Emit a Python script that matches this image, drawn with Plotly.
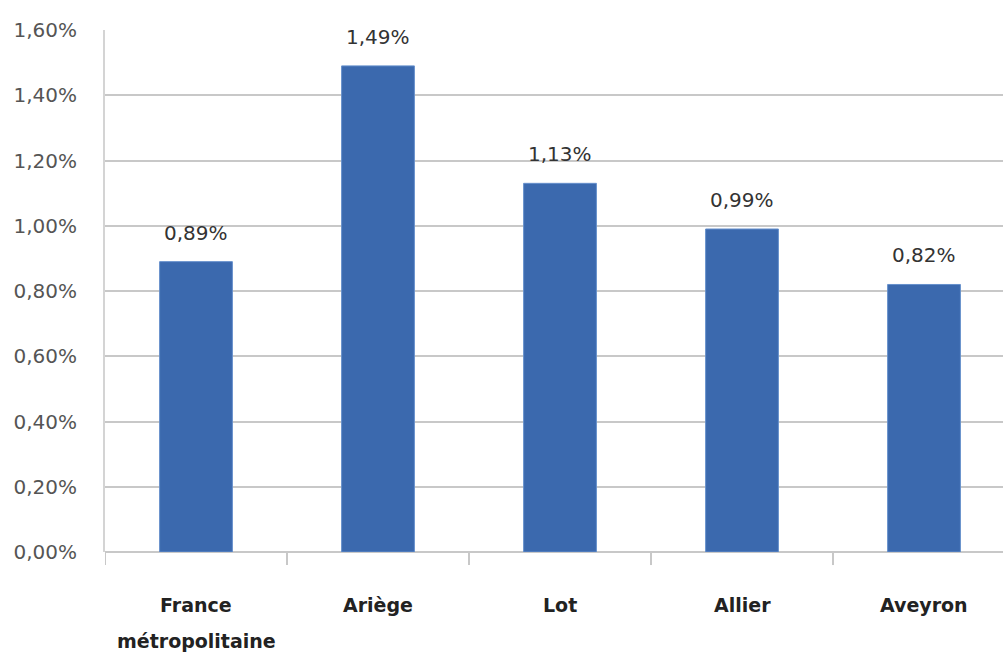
import plotly.graph_objects as go

categories = [["France", "métropolitaine"], ["Ariège"], ["Lot"], ["Allier"], ["Aveyron"]]
values = [0.89, 1.49, 1.13, 0.99, 0.82]
value_labels = ["0,89%", "1,49%", "1,13%", "0,99%", "0,82%"]
y_ticks = [0.0, 0.2, 0.4, 0.6, 0.8, 1.0, 1.2, 1.4, 1.6]
y_tick_labels = ["0,00%", "0,20%", "0,40%", "0,60%", "0,80%", "1,00%", "1,20%", "1,40%", "1,60%"]

FONT = "DejaVu Sans"

fig = go.Figure(
    go.Bar(
        x=list(range(len(categories))),
        y=values,
        width=0.4,
        marker=dict(color="#3b69ae", line=dict(color="#6690cc", width=1)),
        hoverinfo="skip",
    )
)

# value labels above each bar
for i, (v, lab) in enumerate(zip(values, value_labels)):
    fig.add_annotation(
        x=i, y=v, text=lab, showarrow=False, yanchor="bottom", yshift=15,
        font=dict(family=FONT, size=20, color="#333333"),
    )

# category labels below the axis, one annotation per text line
for i, lines in enumerate(categories):
    for k, line in enumerate(lines):
        fig.add_annotation(
            x=i, xref="x", y=0, yref="paper", text=line, showarrow=False,
            yanchor="middle", yshift=-53 - 36 * k,
            font=dict(family=FONT, size=19, color="#222222", weight="bold"),
        )

fig.update_layout(
    width=1003, height=655,
    margin=dict(l=105, r=0, t=30, b=103),
    paper_bgcolor="white", plot_bgcolor="white",
    showlegend=False,
    bargap=0.6,
)

fig.update_xaxes(
    type="linear",
    range=[-0.5, 4.434],
    showticklabels=False,
    showgrid=False, zeroline=False,
    showline=False,
    ticks="",
)

# boundary ticks between categories
for b in [-0.5, 0.5, 1.5, 2.5, 3.5]:
    fig.add_shape(type="line", xref="x", yref="paper", x0=b, x1=b, y0=0, y1=-0.025,
                  line=dict(color="#c8c8c8", width=2))

fig.update_yaxes(
    range=[0, 1.6],
    tickvals=y_ticks, ticktext=y_tick_labels,
    showgrid=True, gridcolor="#c8c8c8", gridwidth=2,
    zeroline=True, zerolinecolor="#c8c8c8", zerolinewidth=2,
    showline=True, linecolor="#d4d4d4", linewidth=2,
    ticks="", ticklabelstandoff=22,
    tickfont=dict(family=FONT, size=20, color="#555555"),
)

fig.write_html("out.html")
